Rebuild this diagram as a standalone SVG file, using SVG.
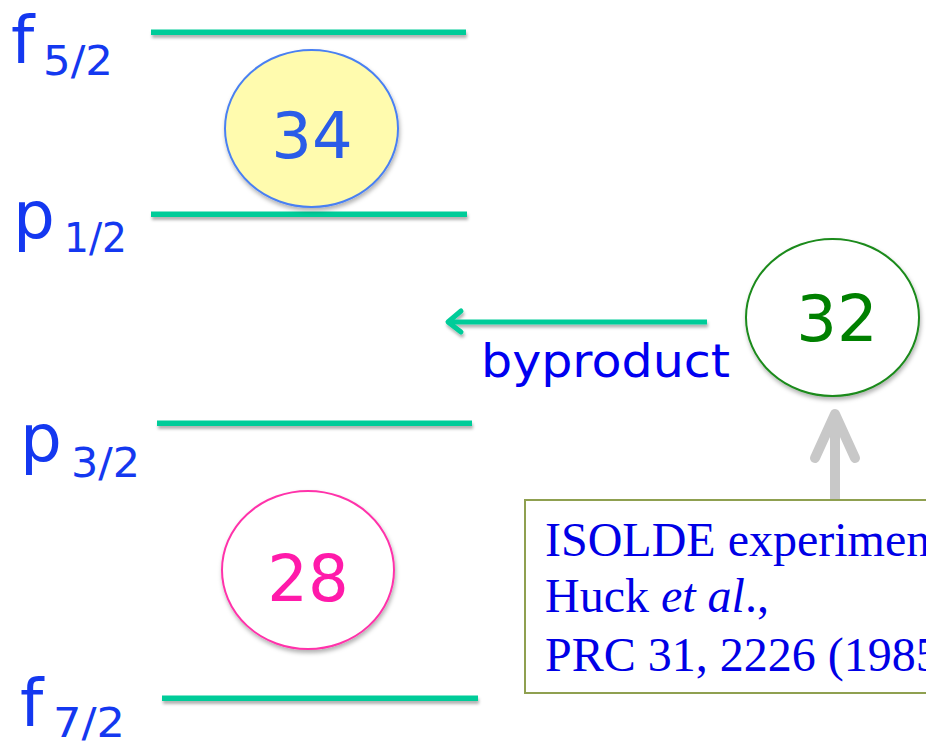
<svg xmlns="http://www.w3.org/2000/svg" width="926" height="742" viewBox="0 0 926 742">
<defs>
<style>
.lvl{fill:#00CC99}
.lbl{font-family:"DejaVu Sans",sans-serif;fill:#1438F0}
.big{font-size:66px}
.sub{font-size:41px}
.num{font-family:"DejaVu Sans",sans-serif;font-size:64px;text-anchor:middle}
.ref{font-family:"Liberation Serif","Times New Roman",serif;font-size:48px;fill:#0000E6}
</style>
<filter id="sh" x="-10%" y="-50%" width="120%" height="250%">
<feDropShadow dx="1" dy="3" stdDeviation="2" flood-color="#000" flood-opacity="0.3"/>
</filter>
<filter id="shl" filterUnits="userSpaceOnUse" x="0" y="0" width="926" height="742">
<feDropShadow dx="1" dy="3" stdDeviation="1.5" flood-color="#000" flood-opacity="0.3"/>
</filter>
</defs>
<g id="level-f52">
<rect class="lvl" x="151" y="29.5" width="315" height="5.5" filter="url(#shl)"/>
<text class="lbl" x="11" y="63"><tspan class="big">f</tspan><tspan class="sub" x="43" dy="12" textLength="70" lengthAdjust="spacingAndGlyphs">5/2</tspan></text>
</g>
<g id="level-p12">
<rect class="lvl" x="151" y="211.5" width="316" height="5.5" filter="url(#shl)"/>
<text class="lbl" x="13" y="238"><tspan class="big">p</tspan><tspan class="sub" x="64" dy="14" textLength="63" lengthAdjust="spacingAndGlyphs">1/2</tspan></text>
</g>
<g id="level-p32">
<rect class="lvl" x="157" y="420.5" width="315" height="5.5" filter="url(#shl)"/>
<text class="lbl" x="20" y="461"><tspan class="big">p</tspan><tspan class="sub" x="71" dy="16" textLength="69" lengthAdjust="spacingAndGlyphs">3/2</tspan></text>
</g>
<g id="level-f72">
<rect class="lvl" x="162" y="695.5" width="316" height="5.5" filter="url(#shl)"/>
<text class="lbl" x="20" y="726"><tspan class="big">f</tspan><tspan class="sub" x="53" dy="11" textLength="72" lengthAdjust="spacingAndGlyphs">7/2</tspan></text>
</g>
<g id="magic-34">
<ellipse cx="311.5" cy="128.5" rx="86.5" ry="78.5" fill="#FFFBAE" stroke="#4A80F2" stroke-width="2" filter="url(#sh)"/>
<text class="num" x="312" y="158" fill="#2A5CE8">34</text>
</g>
<g id="magic-28">
<ellipse cx="308" cy="570" rx="86" ry="79" fill="#fff" stroke="#FF33AA" stroke-width="2" filter="url(#sh)"/>
<text class="num" x="308" y="601" fill="#FF1AAA">28</text>
</g>
<g id="magic-32">
<ellipse cx="832.5" cy="317.5" rx="86.5" ry="78.5" fill="#fff" stroke="#1A8A1A" stroke-width="2" filter="url(#sh)"/>
<text class="num" x="837" y="341" fill="#008000">32</text>
</g>
<g id="isolde-box">
<rect x="525" y="500" width="420" height="193" fill="#fff" stroke="#8FA050" stroke-width="2"/>
<text class="ref" x="545" y="556">ISOLDE experiment</text>
<text class="ref" x="545" y="612">Huck <tspan font-style="italic">et al</tspan>.,</text>
<text class="ref" x="545" y="671">PRC 31, 2226 (1985)</text>
</g>
<g id="connectors">
<g id="byproduct-arrow" filter="url(#shl)">
<line x1="707" y1="322" x2="449" y2="322" stroke="#00CC99" stroke-width="5"/>
<polyline points="461,311 448,322 461,332" fill="none" stroke="#00CC99" stroke-width="5" stroke-linecap="round" stroke-linejoin="round"/>
</g>
<text x="481" y="377" font-family="DejaVu Sans,sans-serif" font-size="46" fill="#0000F0" textLength="249" lengthAdjust="spacingAndGlyphs">byproduct</text>
<g id="isolde-arrow">
<line x1="835" y1="499" x2="835" y2="416" stroke="#C8C8C8" stroke-width="10"/>
<polyline points="815,458 835,414 855,458" fill="none" stroke="#C8C8C8" stroke-width="10" stroke-linecap="round" stroke-linejoin="round"/>
</g>
</g>
</svg>
